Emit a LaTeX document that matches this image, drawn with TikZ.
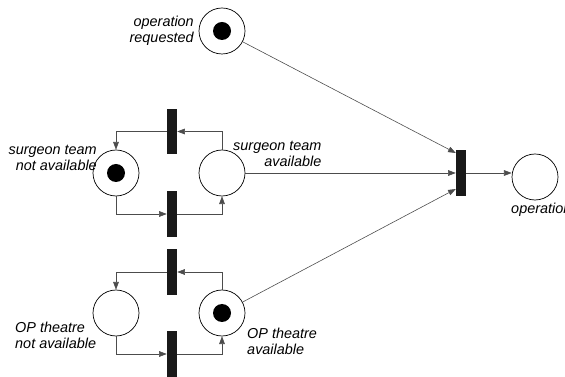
\documentclass[tikz,border=0pt]{standalone}
\usepackage{fontspec}
\setmainfont{Liberation Sans}
\usetikzlibrary{arrows.meta}

\begin{document}
\begin{tikzpicture}[
    x=0.03cm, y=-0.03cm,
    font=\fontsize{12.3pt}{13.8pt}\selectfont\itshape,
    petriPlace/.style={
        circle,
        draw=black,
        line width=0.6pt,
        fill=white,
        minimum size=1.38cm,
        inner sep=0pt
    },
    petriToken/.style={
        circle,
        fill=black,
        minimum size=0.54cm,
        inner sep=0pt
    },
    petriTrans/.style={
        rectangle,
        fill=black!90,
        minimum width=0.3cm,
        minimum height=1.36cm,
        inner sep=0pt
    },
    flowArc/.style={
        draw=black!70,
        line width=0.5pt,
        -{Triangle[length=2.3mm,width=1.7mm]}
    },
    placeLabel/.style={
        inner sep=0pt
    }
]
\useasboundingbox (0,0) rectangle (565,377);

% ==================== PLACES ====================
\node[petriPlace] (opReq) at (222, 31) {};
\node[petriPlace] (surgNa) at (116, 173) {};
\node[petriPlace] (surgAv) at (222, 173) {};
\node[petriPlace] (theaNa) at (116, 313) {};
\node[petriPlace] (theaAv) at (222, 313) {};
\node[petriPlace] (opDone) at (535, 177) {};

% Tokens
\node[petriToken] (tokOpReq) at (opReq) {};
\node[petriToken] (tokSurgNa) at (surgNa) {};
\node[petriToken] (tokTheaAv) at (theaAv) {};

% ==================== TRANSITIONS ====================
\node[petriTrans] (surgRel) at (172, 131.5) {};
\node[petriTrans] (surgOcc) at (172, 214) {};
\node[petriTrans] (theaRel) at (172, 272) {};
\node[petriTrans] (theaOcc) at (172, 354) {};
\node[petriTrans] (opStart) at (461, 173) {};

% ==================== LABELS ====================
\node[placeLabel, anchor=east, align=right] (lblOpReq) at (194, 31) {operation\\requested};
\node[placeLabel, anchor=east, align=right] (lblSurgNa) at (97, 158) {surgeon team\\not available};
\node[placeLabel, anchor=west, align=right] (lblSurgAv) at (233, 154) {surgeon team\\available};
\node[placeLabel, anchor=west, align=left] (lblTheaNa) at (15, 335) {OP theatre\\not available};
\node[placeLabel, anchor=west, align=left] (lblTheaAv) at (247, 341) {OP theatre\\available};
\node[placeLabel, anchor=west] (lblOpDone) at (511, 210) {operation};

% ==================== ARCS ====================

% surgeon team cycle
\draw[flowArc] (surgAv.north) |- (surgRel.east);
\draw[flowArc] (surgRel.west) -| (surgNa.north);
\draw[flowArc] (surgNa.south) |- (surgOcc.west);
\draw[flowArc] (surgOcc.east) -| (surgAv.south);

% OP theatre cycle
\draw[flowArc] (theaAv.north) |- (theaRel.east);
\draw[flowArc] (theaRel.west) -| (theaNa.north);
\draw[flowArc] (theaNa.south) |- (theaOcc.west);
\draw[flowArc] (theaOcc.east) -| (theaAv.south);

% start of the operation
\draw[flowArc] (opReq) -- ([yshift=0.6cm]opStart.west);
\draw[flowArc] (surgAv) -- (opStart.west);
\draw[flowArc] (theaAv) -- ([yshift=-0.48cm]opStart.west);
\draw[flowArc] (opStart.east) -- (opStart.east -| opDone.west);

\end{tikzpicture}
\end{document}
